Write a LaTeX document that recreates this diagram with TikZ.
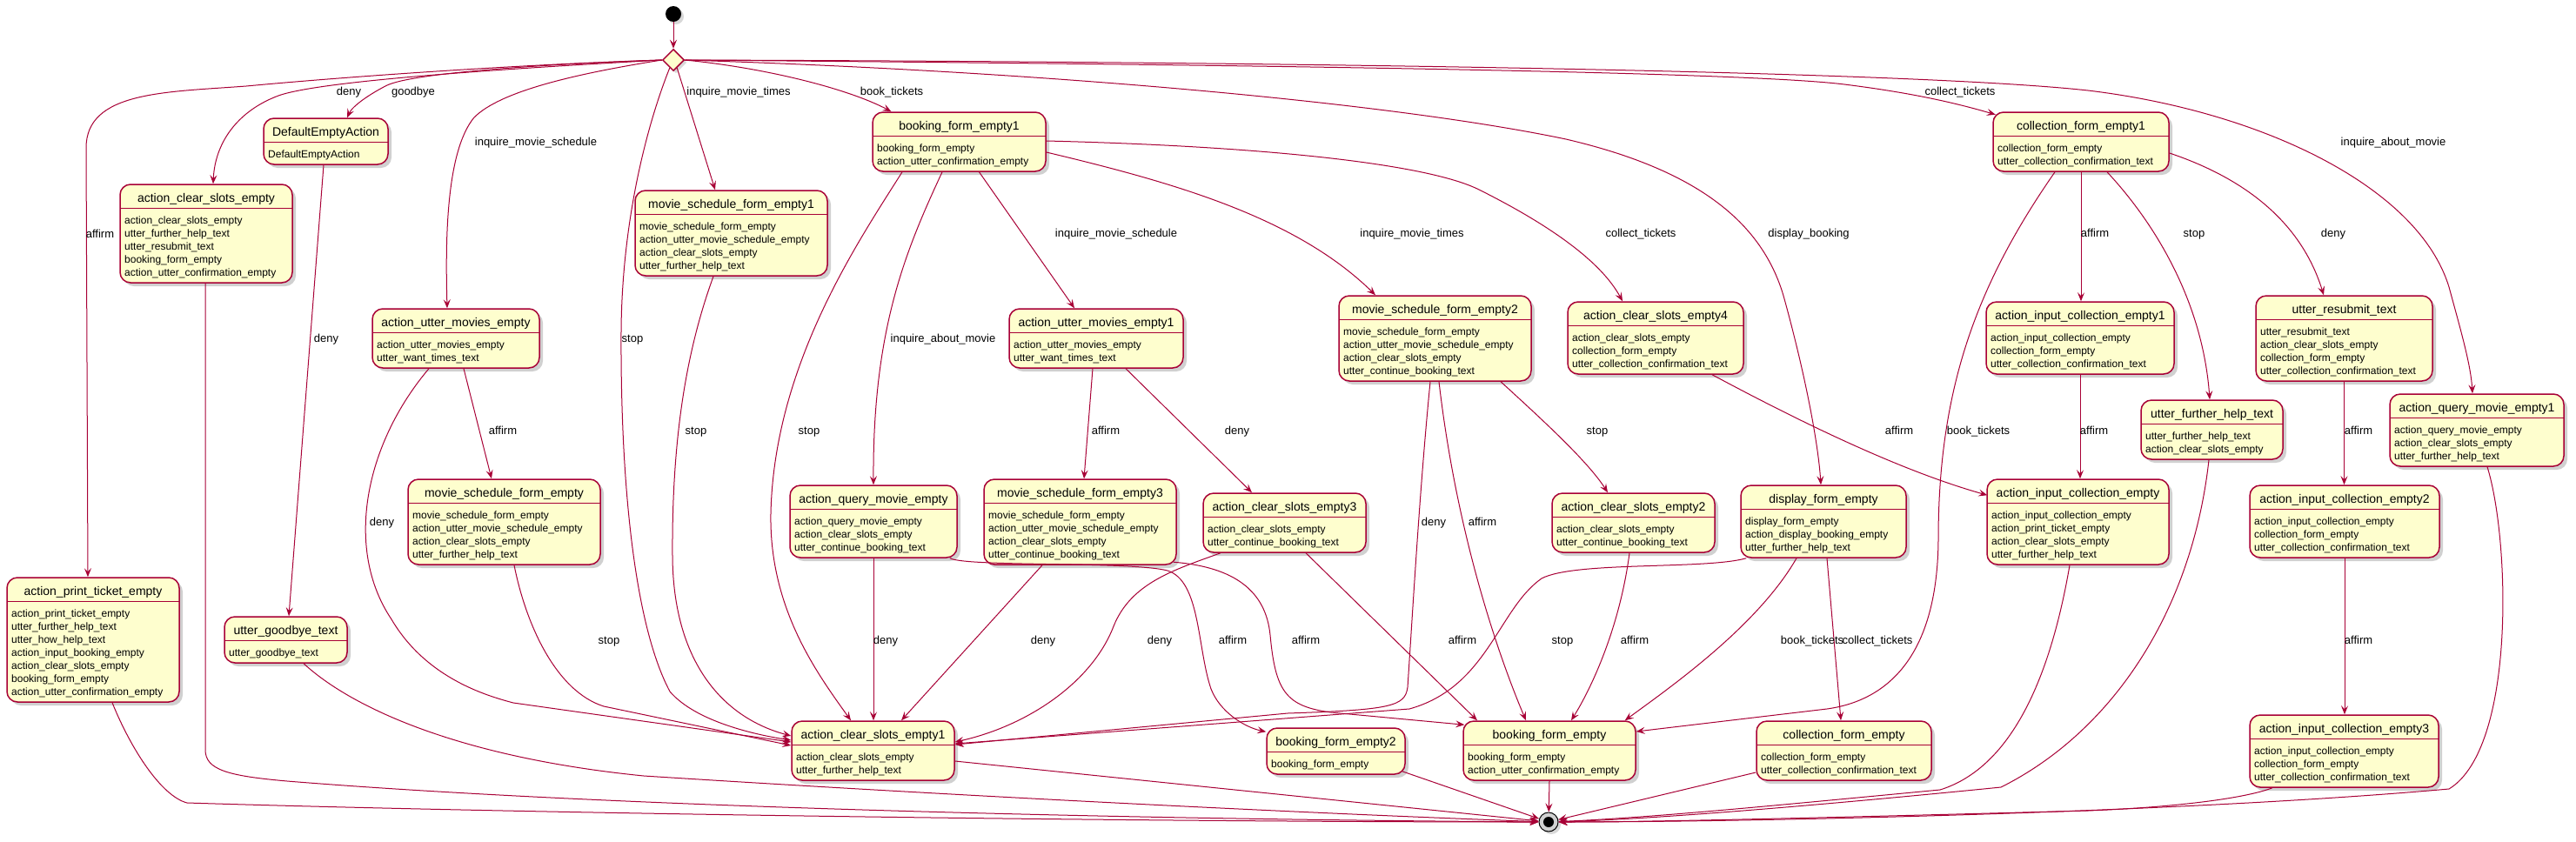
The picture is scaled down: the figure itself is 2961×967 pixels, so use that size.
\documentclass[tikz,border=0pt]{standalone}
\usepackage{fontspec}
\setmainfont{Liberation Sans}
\usetikzlibrary{arrows.meta,shapes.geometric,shadows}
\definecolor{brd}{HTML}{A80036}
\definecolor{fil}{HTML}{FEFECE}
\tikzset{
 stbox/.style={draw=brd, fill=fil, line width=1.5pt, rounded corners=12pt, inner sep=0pt,
   drop shadow={shadow xshift=4pt, shadow yshift=-4pt, opacity=0.3, fill=black!60}},
 sttitle/.style={anchor=base, inner sep=0pt, font=\fontsize{14}{16}\selectfont},
 stbody/.style={anchor=base west, inner sep=0pt, font=\fontsize{12}{14}\selectfont},
 tr/.style={draw=brd, line width=1pt, -{Stealth[length=10pt,width=8pt,inset=4pt]}},
 lbl/.style={inner sep=0pt, font=\fontsize{13}{15}\selectfont, text height=9.5pt, text depth=2.5pt},
}
\newcommand\stnode[7]{%
  \pgfmathsetmacro\bw{#3-#2}%
  \pgfmathsetmacro\bh{38+15*#5}%
  \pgfmathsetmacro\bcx{(#2+#3)/2}%
  \pgfmathsetmacro\bcy{#4+\bh/2}%
  \pgfmathsetmacro\bsy{#4+27.5}%
  \node[stbox, minimum width=\bw pt, minimum height=\bh pt] (#1) at (\bcx,\bcy) {};
  \draw[brd, line width=1.5pt] (#2,\bsy) -- (#3,\bsy);
  \node[sttitle] (#1-t) at (\bcx,#4+20.5) {#6};
  \foreach \bodyline [count=\i] in {#7} {\node[stbody] (#1-b\i) at (#2+5,#4+30.5+15*\i) {\bodyline};}
}
\catcode`\_=12
\begin{document}
\begin{tikzpicture}[x=1pt,y=-1pt]
\fill[white] (0,0) rectangle (2961,967);
\useasboundingbox (0,0) rectangle (2961,967);

% pseudo states
\node[circle, fill=black, minimum size=18pt, inner sep=0pt, drop shadow={shadow xshift=3pt, shadow yshift=-3pt, opacity=0.3}] (st) at (774,16) {};
\node[diamond, aspect=1, draw=brd, fill=fil, line width=1.5pt, minimum width=25pt, minimum height=25pt, inner sep=0pt, drop shadow={shadow xshift=3pt, shadow yshift=-3pt, opacity=0.3}] (ch) at (774,69) {};
\node[circle, draw=black, fill=black!18, line width=1pt, minimum size=22pt, inner sep=0pt, drop shadow={shadow xshift=3pt, shadow yshift=-3pt, opacity=0.3}] (en) at (1780,945) {};
\node[circle, fill=black, minimum size=12pt, inner sep=0pt] (enc) at (en) {};

% states
\stnode{dea}{303}{446}{136}{1}{DefaultEmptyAction}{DefaultEmptyAction}
\stnode{acse}{138}{336}{212}{5}{action_clear_slots_empty}{action_clear_slots_empty,utter_further_help_text,utter_resubmit_text,booking_form_empty,action_utter_confirmation_empty}
\stnode{msfe1}{730}{951}{219}{4}{movie_schedule_form_empty1}{movie_schedule_form_empty,action_utter_movie_schedule_empty,action_clear_slots_empty,utter_further_help_text}
\stnode{bfe1}{1003}{1202}{129}{2}{booking_form_empty1}{booking_form_empty,action_utter_confirmation_empty}
\stnode{cfe1}{2291}{2493}{129}{2}{collection_form_empty1}{collection_form_empty,utter_collection_confirmation_text}
\stnode{aume}{428}{620}{355}{2}{action_utter_movies_empty}{action_utter_movies_empty,utter_want_times_text}
\stnode{msfe}{469}{690}{551}{4}{movie_schedule_form_empty}{movie_schedule_form_empty,action_utter_movie_schedule_empty,action_clear_slots_empty,utter_further_help_text}
\stnode{aume1}{1160}{1360}{355}{2}{action_utter_movies_empty1}{action_utter_movies_empty,utter_want_times_text}
\stnode{aqme}{908}{1100}{558}{3}{action_query_movie_empty}{action_query_movie_empty,action_clear_slots_empty,utter_continue_booking_text}
\stnode{msfe3}{1131}{1352}{551}{4}{movie_schedule_form_empty3}{movie_schedule_form_empty,action_utter_movie_schedule_empty,action_clear_slots_empty,utter_continue_booking_text}
\stnode{acse3}{1383}{1570}{567}{2}{action_clear_slots_empty3}{action_clear_slots_empty,utter_continue_booking_text}
\stnode{msfe2}{1539}{1760}{340}{4}{movie_schedule_form_empty2}{movie_schedule_form_empty,action_utter_movie_schedule_empty,action_clear_slots_empty,utter_continue_booking_text}
\stnode{acse4}{1802}{2004}{347}{3}{action_clear_slots_empty4}{action_clear_slots_empty,collection_form_empty,utter_collection_confirmation_text}
\stnode{acse2}{1784}{1971}{567}{2}{action_clear_slots_empty2}{action_clear_slots_empty,utter_continue_booking_text}
\stnode{dfe}{2001}{2191}{558}{3}{display_form_empty}{display_form_empty,action_display_booking_empty,utter_further_help_text}
\stnode{aice1}{2283}{2499}{347}{3}{action_input_collection_empty1}{action_input_collection_empty,collection_form_empty,utter_collection_confirmation_text}
\stnode{ufht}{2461}{2624}{460}{2}{utter_further_help_text}{utter_further_help_text,action_clear_slots_empty}
\stnode{urt}{2593}{2796}{340}{4}{utter_resubmit_text}{utter_resubmit_text,action_clear_slots_empty,collection_form_empty,utter_collection_confirmation_text}
\stnode{aqme1}{2747}{2947}{453}{3}{action_query_movie_empty1}{action_query_movie_empty,action_clear_slots_empty,utter_further_help_text}
\stnode{aice}{2284}{2493}{551}{4}{action_input_collection_empty}{action_input_collection_empty,action_print_ticket_empty,action_clear_slots_empty,utter_further_help_text}
\stnode{aice2}{2586}{2804}{558}{3}{action_input_collection_empty2}{action_input_collection_empty,collection_form_empty,utter_collection_confirmation_text}
\stnode{apte}{8}{206}{664}{7}{action_print_ticket_empty}{action_print_ticket_empty,utter_further_help_text,utter_how_help_text,action_input_booking_empty,action_clear_slots_empty,booking_form_empty,action_utter_confirmation_empty}
\stnode{ugt}{258}{399}{709}{1}{utter_goodbye_text}{utter_goodbye_text}
\stnode{acse1}{910}{1097}{829}{2}{action_clear_slots_empty1}{action_clear_slots_empty,utter_further_help_text}
\stnode{bfe2}{1456}{1615}{837}{1}{booking_form_empty2}{booking_form_empty}
\stnode{bfe}{1682}{1880}{829}{2}{booking_form_empty}{booking_form_empty,action_utter_confirmation_empty}
\stnode{cfe}{2019}{2220}{829}{2}{collection_form_empty}{collection_form_empty,utter_collection_confirmation_text}
\stnode{aice3}{2586}{2803}{822}{3}{action_input_collection_empty3}{action_input_collection_empty,collection_form_empty,utter_collection_confirmation_text}

% transitions
\draw[tr] (st.south) -- (ch.north);
\draw[tr] (ch.west) .. controls (600,74) and (400,88) .. (283,99) .. controls (190,106) and (99,105) .. (99,170) -- ([xshift=-6pt]apte.north);
\draw[tr] (ch.west) .. controls (600,78) and (370,92) .. (320,110) .. controls (272,128) and (247,165) .. ([xshift=8pt]acse.north);
\draw[tr] (ch.west) .. controls (620,74) and (475,84) .. (445,98) .. controls (425,108) and (405,122) .. ([xshift=24.5pt]dea.north);
\draw[tr] (ch.west) .. controls (660,85) and (575,105) .. (545,135) .. controls (512,175) and (512,280) .. ([xshift=-10pt]aume.north);
\draw[tr] (ch.-115) .. controls (745,140) and (715,250) .. (714,380) .. controls (713,560) and (730,720) .. (770,795) .. controls (800,830) and (870,845) .. ([yshift=12pt]acse1.west);
\draw[tr] (ch.-65) -- ([xshift=-18.5pt]msfe1.north);
\draw[tr] (ch.east) .. controls (880,78) and (975,102) .. ([xshift=-78pt]bfe1.north);
\draw[tr] (ch.east) .. controls (1400,74) and (2000,82) .. (2120,97) .. controls (2200,107) and (2250,119) .. ([xshift=3.5pt,yshift=-3.5pt]cfe1.north west);
\draw[tr] (ch.east) .. controls (1500,71) and (2200,82) .. (2400,104) .. controls (2600,128) and (2780,215) .. (2815,330) .. controls (2830,385) and (2840,420) .. ([xshift=-5pt]aqme1.north);
\draw[tr] (ch.east) .. controls (1200,82) and (1600,118) .. (1800,160) .. controls (1950,195) and (2025,255) .. (2050,340) .. controls (2075,430) and (2090,510) .. ([xshift=-3pt]dfe.north);

\draw[tr] ([xshift=-65.5pt]bfe1.south) .. controls (985,280) and (890,420) .. (886,590) .. controls (884,700) and (940,775) .. ([xshift=-25.5pt]acse1.north);
\draw[tr] ([xshift=-19.5pt]bfe1.south) .. controls (1040,290) and (1003,380) .. (aqme.north);
\draw[tr] ([xshift=23pt]bfe1.south) -- ([xshift=-25pt]aume1.north);
\draw[tr] ([yshift=-12pt]bfe1.east) .. controls (1350,210) and (1490,250) .. ([xshift=-68.5pt]msfe2.north);
\draw[tr] ([yshift=1pt]bfe1.east) .. controls (1450,168) and (1640,188) .. (1700,218) .. controls (1780,258) and (1840,300) .. ([xshift=-38pt]acse4.north);
\draw[tr] ([xshift=-20.5pt]msfe1.south) .. controls (790,400) and (772,500) .. (773,640) .. controls (774,760) and (830,825) .. ([yshift=17pt]acse1.west);
\draw[tr] ([xshift=-2.5pt]dea.south) -- ([xshift=3.5pt]ugt.north);
\draw[tr] ([xshift=9pt]aume.south) -- ([xshift=-14.5pt]msfe.north);
\draw[tr] ([xshift=-31pt]aume.south) .. controls (420,510) and (395,630) .. (450,712) .. controls (490,780) and (560,800) .. (590,808) -- ([yshift=10pt]acse1.west);
\draw[tr] ([xshift=11.5pt]msfe.south) .. controls (605,720) and (640,795) .. (694,812) -- ([yshift=6pt]acse1.west);
\draw[tr] ([xshift=-4pt]aume1.south) -- ([xshift=4.5pt]msfe3.north);
\draw[tr] ([xshift=34pt]aume1.south) -- ([xshift=-37.5pt]acse3.north);
\draw[tr] (aqme.south) -- (aqme.south |- acse1.north);
\draw[tr] ([xshift=-9pt]aqme.south east) .. controls (1112,652) and (1300,645) .. (1342,656) .. controls (1380,668) and (1376,745) .. (1392,792) .. controls (1402,818) and (1430,836) .. ([yshift=-5pt]bfe2.north west);
\draw[tr] ([xshift=-43.5pt]msfe3.south) -- ([xshift=32.5pt]acse1.north);
\draw[tr] ([xshift=-3.5pt,yshift=3.5pt]msfe3.south east) .. controls (1420,652) and (1455,680) .. (1460,730) .. controls (1466,795) and (1478,812) .. (1530,819) -- ([xshift=2pt,yshift=-5pt]bfe.north west);
\draw[tr] ([xshift=-73.5pt]acse3.south) .. controls (1350,655) and (1300,670) .. (1280,720) .. controls (1255,785) and (1180,835) .. ([yshift=10pt]acse1.east);
\draw[tr] ([xshift=24.5pt]acse3.south) -- ([xshift=-83pt]bfe.north);
\draw[tr] ([xshift=-5.5pt]msfe2.south) .. controls (1632,560) and (1624,700) .. (1618,790) .. controls (1615,812) and (1600,816) .. (1480,820) -- ([yshift=7pt]acse1.east);
\draw[tr] ([xshift=4.5pt]msfe2.south) .. controls (1675,620) and (1725,760) .. ([xshift=-27pt]bfe.north);
\draw[tr] ([xshift=75.5pt]msfe2.south) .. controls (1770,480) and (1825,530) .. ([xshift=-29.5pt]acse2.north);
\draw[tr] ([xshift=-4.5pt]acse2.south) .. controls (1862,720) and (1830,790) .. ([xshift=25pt]bfe.north);
\draw[tr] ([xshift=65pt]acse4.south) .. controls (2060,480) and (2180,540) .. ([xshift=1pt,yshift=-19pt]aice.north west);
\draw[tr] ([xshift=7pt]dfe.south west) .. controls (1960,655) and (1810,645) .. (1772,665) .. controls (1722,700) and (1710,790) .. (1620,815) -- ([yshift=8pt]acse1.east);
\draw[tr] ([xshift=-31pt]dfe.south) .. controls (2020,720) and (1920,790) .. ([xshift=-13pt]bfe.north east);
\draw[tr] ([xshift=4pt]dfe.south) -- ([xshift=-3.5pt]cfe.north);
\draw[tr] (cfe1.south) -- (cfe1.south |- aice1.north);
\draw[tr] ([xshift=30pt]cfe1.south) .. controls (2480,260) and (2532,350) .. ([xshift=-2.5pt]ufht.north);
\draw[tr] ([yshift=-13pt]cfe1.east) .. controls (2580,205) and (2645,255) .. ([xshift=-23.5pt]urt.north);
\draw[tr] ([xshift=-30pt]cfe1.south) .. controls (2270,330) and (2228,450) .. (2228,620) .. controls (2227,760) and (2165,806) .. (2100,815) -- ([yshift=22pt]bfe.east);
\draw[tr] (aice1.south) -- (aice1.south |- aice.north);
\draw[tr] (urt.south) -- (urt.south |- aice2.north);
\draw[tr] (aice2.south) -- (aice2.south |- aice3.north);

% to final state
\draw[tr] ([xshift=-1pt]acse.south) -- (236,862) .. controls (236,885) and (262,892) .. (330,898) .. controls (700,928) and (1300,942) .. (en);
\draw[tr] ([xshift=22pt]apte.south) .. controls (150,860) and (185,915) .. (215,923) .. controls (600,935) and (1300,945) .. (en);
\draw[tr] ([xshift=20.5pt]ugt.south) .. controls (400,810) and (520,870) .. (740,892) .. controls (1100,915) and (1500,935) .. (en);
\draw[tr] ([yshift=-12pt]acse1.east) -- (en);
\draw[tr] ([xshift=-4pt,yshift=4pt]bfe2.south east) -- (en);
\draw[tr] (bfe.south) -- (en);
\draw[tr] ([yshift=-25pt]cfe.west) -- (en);
\draw[tr] ([xshift=-9.5pt]aice.south) .. controls (2360,760) and (2320,880) .. (2230,908) .. controls (2050,925) and (1900,940) .. (en);
\draw[tr] ([xshift=-3.5pt]ufht.south) .. controls (2520,700) and (2430,840) .. (2300,905) .. controls (2100,925) and (1900,942) .. (en);
\draw[tr] ([xshift=12pt]aqme1.south) .. controls (2885,620) and (2892,860) .. (2815,907) .. controls (2500,935) and (2000,945) .. (en);
\draw[tr] ([xshift=-82.5pt]aice3.south) .. controls (2580,918) and (2500,928) .. (2400,932) .. controls (2100,940) and (1900,945) .. (en);

% labels
\node[lbl] (l1) at (115,270) {affirm};
\node[lbl] (l2) at (401,106) {deny};
\node[lbl] (l3) at (475,106) {goodbye};
\node[lbl] (l4) at (616,164) {inquire_movie_schedule};
\node[lbl] (l5) at (849,106) {inquire_movie_times};
\node[lbl] (l6) at (1025,106) {book_tickets};
\node[lbl] (l7) at (2253,106) {collect_tickets};
\node[lbl] (l8) at (2751,164) {inquire_about_movie};
\node[lbl] (l9) at (2079,269) {display_booking};
\node[lbl] (l10) at (727,390) {stop};
\node[lbl] (l11) at (800,496) {stop};
\node[lbl] (l12) at (930,496) {stop};
\node[lbl] (l13) at (1084,390) {inquire_about_movie};
\node[lbl] (l14) at (1283,269) {inquire_movie_schedule};
\node[lbl] (l15) at (1623,269) {inquire_movie_times};
\node[lbl] (l16) at (1886,269) {collect_tickets};
\node[lbl] (l17) at (375,390) {deny};
\node[lbl] (l18) at (578,496) {affirm};
\node[lbl] (l19) at (439,601) {deny};
\node[lbl] (l20) at (700,737) {stop};
\node[lbl] (l21) at (1271,496) {affirm};
\node[lbl] (l22) at (1422,496) {deny};
\node[lbl] (l23) at (1018,737) {deny};
\node[lbl] (l24) at (1417,737) {affirm};
\node[lbl] (l25) at (1199,737) {deny};
\node[lbl] (l26) at (1501,737) {affirm};
\node[lbl] (l27) at (1333,737) {deny};
\node[lbl] (l28) at (1681,737) {affirm};
\node[lbl] (l29) at (1648,601) {deny};
\node[lbl] (l30) at (1704,601) {affirm};
\node[lbl] (l31) at (1836,496) {stop};
\node[lbl] (l32) at (1879,737) {affirm};
\node[lbl] (l33) at (2183,496) {affirm};
\node[lbl] (l34) at (1796,737) {stop};
\node[lbl] (l35) at (2083,737) {book_tickets};
\node[lbl] (l36) at (2158,737) {collect_tickets};
\node[lbl] (l37) at (2408,269) {affirm};
\node[lbl] (l38) at (2522,269) {stop};
\node[lbl] (l39) at (2682,269) {deny};
\node[lbl] (l40) at (2274,496) {book_tickets};
\node[lbl] (l41) at (2407,496) {affirm};
\node[lbl] (l42) at (2711,496) {affirm};
\node[lbl] (l43) at (2711,737) {affirm};
\end{tikzpicture}
\end{document}
